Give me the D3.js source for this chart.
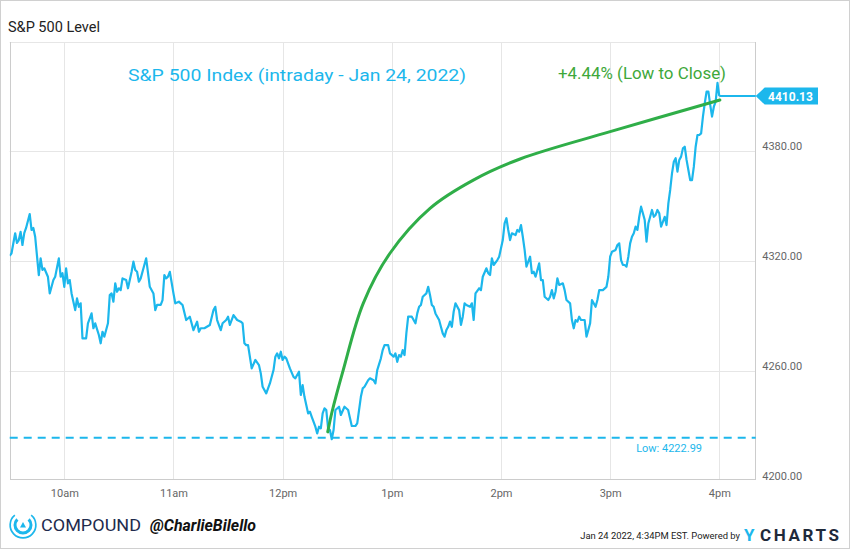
<!DOCTYPE html>
<html>
<head>
<meta charset="utf-8">
<script src="https://cdn.jsdelivr.net/npm/d3@7"></script>
<style>
  html, body { margin: 0; padding: 0; background: #fff; }
  svg { display: block; }
  text { font-family: Roboto, "Noto Sans", sans-serif; }
</style>
</head>
<body>
<svg id="chart" width="850" height="549"></svg>
<script>
// ---------------- DATA ----------------
// minutes after the 9:30 open, Jan 24 2022
const priceMinutes = [
  0,1,3,4,5,6,7,8,9,11,12,13,14,16,17,18,19,21,22,24,25,27,28,29,30,31,32,33,34,36,37,38,39,40,42,43,45,46,47,49,50,51,52,54,55,56,57,58,59,60,61,62,64,65,67,68,69,70,71,72,74,75,77,79,80,81,83,84,85,86,87,88,90,91,93,94,
  95,97,99,101,103,104,105,107,110,112,113,114,116,117,119,120,121,123,125,127,128,129,130,131,133,135,137,138,139,141,142,143,145,146,147,148,149,150,151,152,154,156,157,159,160,161,162,164,165,166,168,169,170,171,172,173,174,175,176,177,178,
  179,181,182,184,186,188,190,191,193,194,195,197,198,200,201,202,204,205,206,208,209,211,212,213,214,215,216,217,218,219,221,223,224,225,226,227,229,230,231,232,233,234,236,237,238,239,240,241,242,243,244,245,247,248,249,250,251,253,254,255,256,258,259,260,262,263,264,265,266,268,269,271,272,273,274,275,276,278,279,280,281,
  282,283,284,286,287,288,289,291,292,293,294,296,297,298,299,300,301,302,304,305,306,308,309,310,311,312,313,314,316,317,318,319,320,322,323,324,326,328,329,330,331,333,334,335,336,337,338,339,340,341,342,343,344,345,346,347,348,349,350,351,352,353,354,355,356,357,358,360,361,362,363,364,365,366,367,368,369,370,371,372,373,374,375,376,377,378,379,380,381,382,383,384,385,386,387,388,389,390
];
const priceValues = [
  4323,4324.4,4335.3,4330.0,4331.6,4336.1,4328.9,4335.4,4338.2,4345.8,4337.1,4338.2,4333.4,4312.5,4321.6,4315.3,4316.2,4311.6,4302.5,4309.8,4311.6,4321.6,4311.6,4313.5,4306.1,4316.2,4308.0,4309.8,4302.5,4293.4,4299.8,4295.2,4297.1,4278.0,4278.0,4286.2,4291.6,4283.5,4286.2,4279.8,4275.3,4281.6,4278.9,4286.2,4301.6,4302.5,4298.0,4308.0,4303.4,4305.3,4304.3,4310.7,4309.8,4305.3,4314.3,4319.8,4315.3,4314.3,4308.9,4310.7,4318.0,4321.6,4306.1,4302.5,4293.4,4296.2,4296.2,4298.9,4312.5,4310.7,4311.6,4314.3,4302.5,4297.1,4298.0,4297.1,
  4296.2,4288.0,4289.8,4282.5,4287.1,4281.6,4283.5,4283.5,4285.3,4293.4,4295.2,4288.0,4282.5,4286.2,4288.0,4289.8,4285.3,4290.7,4288.0,4287.1,4286.2,4275.3,4274.3,4274.3,4261.6,4266.2,4263.4,4258.9,4251.6,4248.0,4250.7,4253.4,4260.7,4268.0,4269.8,4267.1,4270.7,4266.2,4268.0,4267.1,4261.6,4257.0,4256.2,4259.8,4247.1,4252.5,4246.1,4237.1,4238.0,4235.2,4229.8,4226.2,4229.8,4228.9,4237.1,4239.8,4238.9,4228.9,4228.0,4222.99,4228.0,
  4238.9,4240.7,4236.2,4240.7,4238.9,4230.2,4230.2,4231.6,4246.1,4250.7,4251.6,4255.2,4256.2,4255.2,4253.4,4260.7,4267.1,4271.6,4274.3,4274.3,4269.8,4268.0,4269.8,4265.2,4268.9,4268.0,4271.6,4268.9,4280.7,4289.8,4289.8,4286.2,4291.6,4295.2,4296.2,4300.7,4302.5,4306.1,4301.6,4296.2,4295.2,4291.6,4288.0,4284.3,4280.7,4278.9,4282.5,4284.3,4287.1,4284.3,4292.5,4297.1,4293.4,4285.3,4289.8,4297.1,4296.2,4295.2,4297.1,4288.0,4302.5,4305.3,4304.3,4311.6,4316.2,4313.5,4312.5,4321.6,4318.0,4320.7,4322.5,4331.6,4340.7,4343.5,4337.1,4331.6,4335.3,4334.3,4337.1,4336.1,4339.8,
  4333.4,4326.2,4317.1,4322.5,4313.5,4314.3,4311.6,4318.9,4309.8,4309.8,4300.7,4298.9,4300.7,4304.3,4299.8,4303.4,4310.7,4307.1,4308.0,4304.3,4298.9,4297.1,4288.0,4283.5,4288.0,4287.1,4289.8,4288.0,4288.0,4278.9,4282.5,4286.2,4298.9,4295.2,4298.9,4304.3,4304.3,4306.1,4311.6,4322.5,4325.2,4326.2,4328.9,4329.8,4320.7,4318.0,4318.0,4317.1,4322.5,4329.8,4333.4,4335.3,4338.9,4337.1,4344.3,4349.8,4346.2,4342.5,4330.7,4340.7,4344.3,4348.0,4344.3,4345.3,4348.0,4346.2,4338.9,4344.3,4339.8,4351.6,4358.9,4368.0,4374.3,4376.2,4368.9,4375.3,4377.1,4381.6,4382.5,4375.3,4369.8,4364.3,4364.3,4371.6,4382.5,4388.9,4388.9,4389.8,4398.9,4406.2,4412.5,4412.5,4405.3,4398.9,4404.3,4407.1,4417.3,4410.13
];
// hand-drawn "low to close" arc (minutes after open, index level)
const arcMinutes = [174.8, 177.0, 183.3, 194.3, 209.0, 231.0, 254.8, 280.5, 330.0, 390.3];
const arcValues  = [4227.0, 4237.3, 4260.7, 4297.1, 4324.4, 4348.9, 4364.3, 4375.8, 4390.7, 4408.0];

const closeValue = 4410.13;
const lowValue = 4222.99;
const yTicks = [4200, 4260, 4320, 4380];
const xTickHours = [10, 11, 12, 13, 14, 15, 16];
const xTickLabels = ["10am", "11am", "12pm", "1pm", "2pm", "3pm", "4pm"];
const chartTitle = "S&P 500 Level";
const noteTitle = "S&P 500 Index (intraday - Jan 24, 2022)";
const noteGain = "+4.44% (Low to Close)";

// ---------------- LAYOUT ----------------
const svg = d3.select("#chart");
const W = 850, H = 549;
const plot = { left: 9.7, right: 755.7, top: 42, bottom: 479 };
const BLUE = "#1cb7ec", GREEN = "#2fae48", GRID = "#e6e6e6", FRAME = "#cccccc";

const openTime = new Date(2022, 0, 24, 9, 30);
const toDate = m => new Date(openTime.getTime() + m * 60000);
const x = d3.scaleTime()
  .domain([openTime, toDate(410)])
  .range([plot.left, plot.right]);
const y = d3.scaleLinear()
  .domain([4201.3, 4439.6])
  .range([plot.bottom, plot.top]);

// fit a text to a width by adjusting its font size (no glyph squeezing)
function fitText(sel, maxWidth) {
  const node = sel.node();
  const fs = parseFloat(sel.attr("font-size"));
  const w = node.getComputedTextLength();
  if (w > maxWidth) sel.attr("font-size", (fs * maxWidth / w).toFixed(2));
  return sel;
}

// outer frame
svg.append("rect").attr("x", 0.5).attr("y", 0.5).attr("width", W - 1).attr("height", H - 1)
  .attr("fill", "#fff").attr("stroke", "#d0d0d0");

// title
svg.append("text").attr("x", 8).attr("y", 31.5).attr("font-size", 14.5)
  .attr("fill", "#222").text(chartTitle);

// grid lines
const tickDates = xTickHours.map(h => new Date(2022, 0, 24, h, 0));
svg.append("g").selectAll("line").data(tickDates).join("line")
  .attr("x1", d => Math.round(x(d)) + 0.5).attr("x2", d => Math.round(x(d)) + 0.5)
  .attr("y1", plot.top).attr("y2", plot.bottom)
  .attr("stroke", GRID).attr("stroke-width", 1);
svg.append("g").selectAll("line").data(yTicks.filter(v => y(v) > plot.top && y(v) < plot.bottom)).join("line")
  .attr("x1", plot.left).attr("x2", plot.right)
  .attr("y1", d => Math.round(y(d)) + 0.5).attr("y2", d => Math.round(y(d)) + 0.5)
  .attr("stroke", GRID).attr("stroke-width", 1);

// plot frame
svg.append("line").attr("x1", plot.left).attr("x2", plot.right).attr("y1", plot.top + 0.5).attr("y2", plot.top + 0.5)
  .attr("stroke", GRID);
svg.append("line").attr("x1", 10.5).attr("x2", 10.5).attr("y1", plot.top).attr("y2", plot.bottom)
  .attr("stroke", FRAME);
svg.append("line").attr("x1", 755.5).attr("x2", 755.5).attr("y1", plot.top).attr("y2", plot.bottom + 1)
  .attr("stroke", FRAME);
svg.append("line").attr("x1", 10).attr("x2", 756).attr("y1", 479.5).attr("y2", 479.5)
  .attr("stroke", FRAME);

// x axis labels
const xAxis = d3.axisBottom(x).tickValues(tickDates).tickSize(0)
  .tickFormat((d, i) => xTickLabels[i]);
const gx = svg.append("g").attr("transform", `translate(0,${plot.bottom})`).call(xAxis);
gx.select(".domain").remove();
gx.selectAll("text").attr("font-family", "Roboto, sans-serif").attr("font-size", 11)
  .attr("fill", "#666").attr("dy", 0).attr("y", 18);

// y axis labels (right)
const yAxis = d3.axisRight(y).tickValues(yTicks).tickSize(0).tickFormat(d3.format(".2f"));
const gy = svg.append("g").attr("transform", `translate(${plot.right + 6.5},0)`).call(yAxis);
gy.select(".domain").remove();
gy.selectAll("text").attr("font-family", "Roboto, sans-serif").attr("font-size", 11)
  .attr("fill", "#666").attr("x", 0).attr("dy", -2).attr("dominant-baseline", "auto");

// low dashed line
svg.append("line").attr("x1", plot.left).attr("x2", plot.right)
  .attr("y1", y(lowValue) - 1.5).attr("y2", y(lowValue) - 1.5)
  .attr("stroke", BLUE).attr("stroke-width", 2).attr("stroke-dasharray", "8,6");
svg.append("text").attr("x", 702).attr("y", y(lowValue) + 13)
  .attr("text-anchor", "end").attr("font-size", 11).attr("fill", BLUE)
  .text("Low: " + d3.format(".2f")(lowValue));

// clip
svg.append("clipPath").attr("id", "clip").append("rect")
  .attr("x", plot.left).attr("y", plot.top).attr("width", plot.right - plot.left).attr("height", plot.bottom - plot.top);

// price line
const series = priceMinutes.slice(0, Math.min(priceMinutes.length, priceValues.length))
  .map((m, i) => ({ t: toDate(m), v: priceValues[i] }));
const line = d3.line().x(d => x(d.t)).y(d => y(d.v)).curve(d3.curveLinear);
const lastPt = series[series.length - 1];
svg.append("path").datum([lastPt, { t: x.domain()[1], v: closeValue }])
  .attr("d", line).attr("fill", "none").attr("stroke", BLUE).attr("stroke-width", 2);
svg.append("path").datum(series).attr("clip-path", "url(#clip)")
  .attr("d", line).attr("fill", "none").attr("stroke", BLUE).attr("stroke-width", 2.2)
  .attr("stroke-linejoin", "round");

// green arc
const arc = arcMinutes.map((m, i) => ({ t: toDate(m), v: arcValues[i] }));
svg.append("path").datum(arc)
  .attr("d", d3.line().x(d => x(d.t)).y(d => y(d.v)).curve(d3.curveCatmullRom.alpha(0.5)))
  .attr("fill", "none").attr("stroke", GREEN).attr("stroke-width", 3).attr("stroke-linecap", "round");

// annotations
svg.append("text").attr("x", 128).attr("y", 81).attr("font-family", "Lato, sans-serif")
  .attr("font-size", 16).attr("fill", BLUE)
  .attr("textLength", 338).attr("lengthAdjust", "spacingAndGlyphs").text(noteTitle);
svg.append("text").attr("x", 558).attr("y", 79).attr("font-family", "Lato, sans-serif")
  .attr("font-size", 16).attr("fill", "#3ea83a")
  .attr("textLength", 168).attr("lengthAdjust", "spacingAndGlyphs").text(noteGain);

// price tag
const ty = y(closeValue);
const tag = d3.path();
tag.moveTo(plot.right, ty);
tag.lineTo(plot.right + 9, ty - 8.5);
tag.lineTo(818, ty - 8.5);
tag.lineTo(818, ty + 8.5);
tag.lineTo(plot.right + 9, ty + 8.5);
tag.closePath();
svg.append("path").attr("d", tag.toString()).attr("fill", BLUE);
svg.append("text").attr("x", 790.5).attr("y", ty + 4.5).attr("text-anchor", "middle")
  .attr("font-size", 12).attr("font-weight", "bold").attr("fill", "#fff")
  .text(d3.format(".2f")(closeValue));

// footer: Compound logo
const logo = svg.append("g").attr("transform", "translate(23,525)");
const arcGen = d3.arc();
logo.append("path").attr("d", arcGen({ innerRadius: 12, outerRadius: 13.7, startAngle: Math.PI * 0.22, endAngle: Math.PI * 1.78 }))
  .attr("fill", BLUE);
logo.append("path").attr("d", arcGen({ innerRadius: 6.5, outerRadius: 9.5, startAngle: Math.PI * 0.25, endAngle: Math.PI * 1.75 }))
  .attr("fill", BLUE);
logo.append("path").attr("d", "M-3,2.5 L3,2.5 L0,-3 Z").attr("fill", BLUE);
svg.append("text").attr("x", 41).attr("y", 531).attr("font-family", "Lato, sans-serif")
  .attr("font-size", 16.5).attr("fill", "#1e2b4d").attr("textLength", 100)
  .attr("lengthAdjust", "spacingAndGlyphs").text("COMPOUND");
svg.append("text").attr("x", 150).attr("y", 531).attr("font-family", "Lato, sans-serif")
  .attr("font-size", 16).attr("font-style", "italic").attr("font-weight", "bold").attr("fill", "#111")
  .attr("textLength", 106).attr("lengthAdjust", "spacingAndGlyphs").text("@CharlieBilello");

// footer: YCharts
const stamp = svg.append("text").attr("x", 740).attr("y", 539).attr("font-size", 11)
  .attr("text-anchor", "end").attr("fill", "#222").text("Jan 24 2022, 4:34PM EST.  Powered by");
fitText(stamp, 160);
svg.append("text").attr("x", 744).attr("y", 541).attr("font-size", 17).attr("font-weight", "bold")
  .attr("fill", BLUE).text("Y");
svg.append("text").attr("x", 760).attr("y", 541).attr("font-size", 17).attr("font-weight", "bold")
  .attr("fill", "#1f2a3a").attr("textLength", 79).attr("lengthAdjust", "spacing").text("CHARTS");
</script>
</body>
</html>
